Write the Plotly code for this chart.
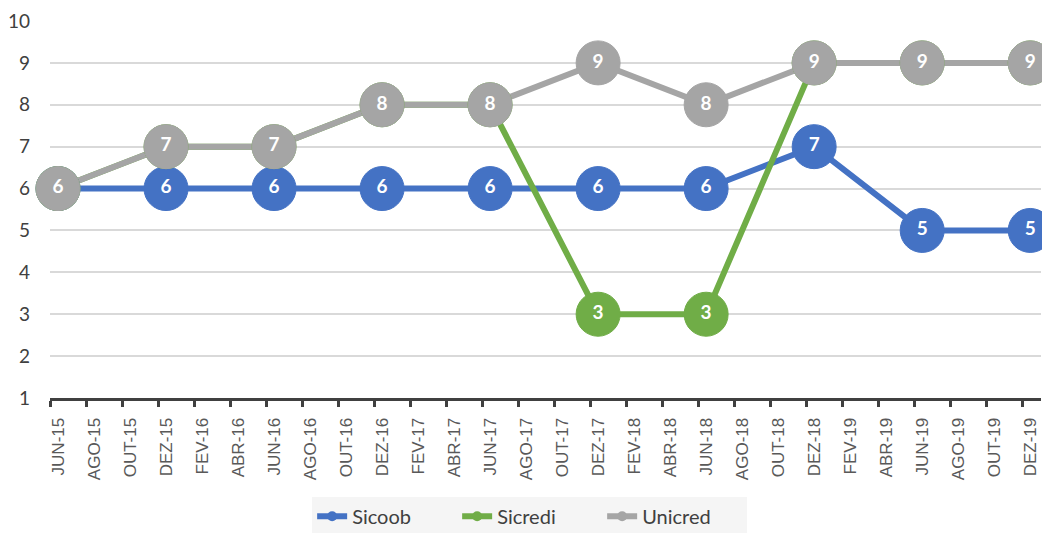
import plotly.graph_objects as go

months = ["JUN-15", "AGO-15", "OUT-15", "DEZ-15", "FEV-16", "ABR-16", "JUN-16", "AGO-16",
          "OUT-16", "DEZ-16", "FEV-17", "ABR-17", "JUN-17", "AGO-17", "OUT-17", "DEZ-17",
          "FEV-18", "ABR-18", "JUN-18", "AGO-18", "OUT-18", "DEZ-18", "FEV-19", "ABR-19",
          "JUN-19", "AGO-19", "OUT-19", "DEZ-19"]
point_months = ["JUN-15", "DEZ-15", "JUN-16", "DEZ-16", "JUN-17", "DEZ-17",
                "JUN-18", "DEZ-18", "JUN-19", "DEZ-19"]
sicoob = [6, 6, 6, 6, 6, 6, 6, 7, 5, 5]
sicredi = [6, 7, 7, 8, 8, 3, 3, 9, 9, 9]
unicred = [6, 7, 7, 8, 8, 9, 8, 9, 9, 9]

series = [("Sicoob", sicoob, "#4472C4"), ("Sicredi", sicredi, "#70AD47"), ("Unicred", unicred, "#A5A5A5")]

idx = {m: i for i, m in enumerate(months)}
xs = [idx[m] for m in point_months]
TICK_OFFSET = 0.222  # Excel date axis: tick marks sit slightly before the data points

fig = go.Figure()
# lines first (Excel draws all lines below all markers)
for name, vals, col in series:
    fig.add_trace(go.Scatter(x=xs, y=vals, mode="lines", line=dict(color=col, width=6),
                             showlegend=False, hoverinfo="skip", cliponaxis=False))
# markers with value labels
for name, vals, col in series:
    fig.add_trace(go.Scatter(x=xs, y=vals, mode="markers+text", text=[str(v) for v in vals],
                             textposition="middle center",
                             textfont=dict(color="white", size=19, family="Lato", weight="bold"),
                             marker=dict(size=44, color=col, line=dict(color=col, width=1)),
                             showlegend=False, name=name, cliponaxis=False))
# legend entries
for name, vals, col in series:
    fig.add_trace(go.Scatter(x=[None], y=[None], mode="lines+markers", name=name,
                             line=dict(color=col, width=6), marker=dict(size=10, color=col)))

fig.update_layout(
    template="none",
    width=1042, height=525,
    margin=dict(l=42, r=9, t=13, b=135, autoexpand=False),
    plot_bgcolor="white", paper_bgcolor="white",
    font=dict(family="Lato", color="#404040", size=17),
    legend=dict(orientation="h", xanchor="center", x=0.484, yanchor="top", y=-0.262,
                bgcolor="#F5F5F5", font=dict(size=20, family="Lato", color="#404040"),
                entrywidth=100, traceorder="normal"),
    showlegend=True,
)
fig.update_xaxes(
    range=[-TICK_OFFSET, 27.3], tickmode="array",
    tickvals=[i - TICK_OFFSET for i in range(len(months))], ticktext=months,
    tickangle=-90, ticks="outside", ticklen=6, tickwidth=3, tickcolor="#404040",
    showgrid=False, zeroline=False,
    showline=True, linecolor="#404040", linewidth=3,
    tickfont=dict(family="Liberation Sans", size=17, color="#595959"),
    ticklabelshift=8, ticklabelstandoff=4,
)
fig.update_yaxes(
    range=[1, 10], tickmode="array", tickvals=list(range(1, 11)),
    showgrid=True, gridcolor="#D9D9D9", gridwidth=1.5, zeroline=False, showline=False,
    ticks="", tickfont=dict(family="Lato", size=19, color="#404040"), ticklabelstandoff=19,
)
fig.write_html("out.html")
